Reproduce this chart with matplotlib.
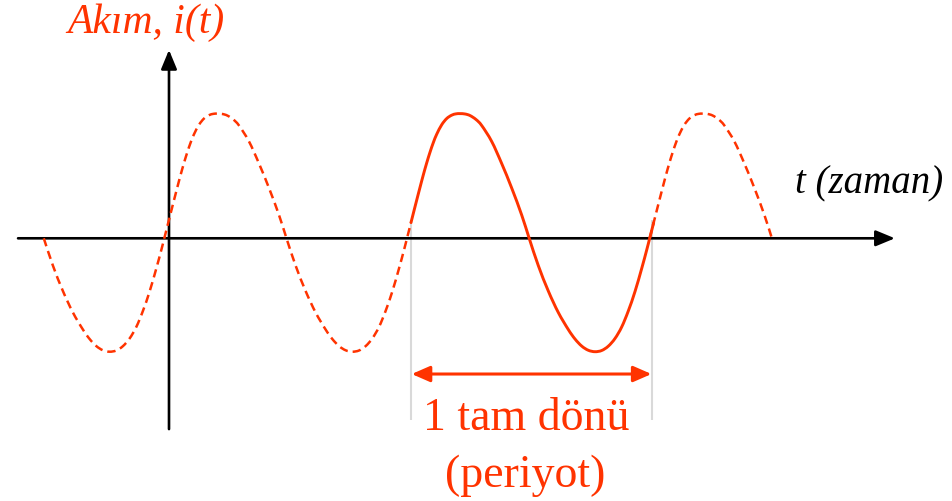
import numpy as np
import matplotlib
matplotlib.use("Agg")
import matplotlib.pyplot as plt
from matplotlib.path import Path
from matplotlib.patches import PathPatch

RED = "#ff3300"
GREY = "#d9d9d9"

# phase in periods (0 = rising zero crossing), current in units of ~peak amplitude
cycle_phase = [0.0, 0.0165, 0.0260, 0.0400, 0.0536, 0.0672, 0.0812, 0.0948,
               0.1084, 0.1224, 0.1430, 0.1636, 0.1842, 0.2019, 0.2184, 0.2390,
               0.2596, 0.2843, 0.3078, 0.3490, 0.3902, 0.4314, 0.4726, 0.5035,
               0.5410, 0.5822, 0.6234, 0.6646, 0.6922, 0.7198, 0.7470, 0.7746,
               0.8022, 0.8294, 0.8570, 0.8846, 0.9118, 0.9394, 0.9670, 0.9876,
               1.0]
cycle_current = [0.0, 0.131, 0.207, 0.318, 0.424, 0.528, 0.628, 0.717,
                 0.797, 0.867, 0.946, 0.998, 1.026, 1.037, 1.039, 1.036,
                 1.023, 0.990, 0.940, 0.807, 0.623, 0.419, 0.194, 0.0,
                 -0.227, -0.439, -0.618, -0.760, -0.839, -0.898, -0.933, -0.945,
                 -0.935, -0.899, -0.835, -0.739, -0.606, -0.444, -0.252, -0.098,
                 0.0]
# rising zero crossings of the drawn cycles (time in periods, vertical axis at 0)
cycle_starts = [-1.0194, -0.0194, 0.9806, 1.9806]
# visible span of the curve and the marked (solid) period
curve_start, curve_end = -0.517, 2.489
period_start, period_end = 0.997, 1.990

title_text = "Akım, i(t)"
xlabel_text = "t (zaman)"
period_text = ["1 tam dönü", "(periyot)"]

# build the curve from the read cycle
t = np.concatenate([np.asarray(cycle_phase[:-1]) + s for s in cycle_starts])
cur = np.tile(cycle_current[:-1], len(cycle_starts))


def smooth_path(x, y):
    """Smooth path through the given points (Catmull-Rom as cubic Beziers)."""
    p = np.column_stack([x, y])
    n = len(p)
    verts = [p[0]]
    codes = [Path.MOVETO]
    for k in range(n - 1):
        p0 = p[k - 1] if k > 0 else p[k]
        p1, p2 = p[k], p[k + 1]
        p3 = p[k + 2] if k + 2 < n else p[k + 1]
        verts += [p1 + (p2 - p0) / 6.0, p2 - (p3 - p1) / 6.0, p2]
        codes += [Path.CURVE4] * 3
    return Path(np.array(verts), codes)


plt.rcParams["lines.scale_dashes"] = False

fig = plt.figure(figsize=(9.53, 5.02), dpi=100)
ax = fig.add_axes([0, 0, 1, 1])
ax.axis("off")
PX_T, PX_I = 242.7, 120.0  # layout scale of the drawing
ax.set_xlim(-169 / PX_T, (953 - 169) / PX_T)
ax.set_ylim((239.3 - 502) / PX_I, 239.3 / PX_I)

serif = ["Liberation Serif", "DejaVu Serif"]

# grey period markers
for tp in (period_start, period_end):
    ax.plot([tp, tp], [0.15, -1.51], color=GREY, lw=1.5, zorder=1,
            solid_capstyle="butt")

# axes arrows
axis_arrow = dict(arrowstyle="-|>,head_length=0.58,head_width=0.24",
                  mutation_scale=20, lw=1.9, color="black", shrinkA=0, shrinkB=0)
ax.annotate("", xy=(2.991, 0), xytext=(-0.622, 0), arrowprops=axis_arrow, zorder=2)
ax.annotate("", xy=(0, 1.57), xytext=(0, -1.59), arrowprops=axis_arrow, zorder=2)

# waveform: dashed outside the marked period, solid inside
m1 = (t >= curve_start) & (t <= period_start + 0.001)
m2 = (t >= period_start - 0.001) & (t <= period_end + 0.008)
m3 = (t >= cycle_starts[-1] - 1e-6) & (t <= curve_end)
for m in (m1, m3):
    ax.add_patch(PathPatch(smooth_path(t[m], cur[m]), fill=False, edgecolor=RED,
                           lw=1.8, linestyle=(0, (6.0, 3.6)), zorder=3,
                           capstyle="butt"))
ax.add_patch(PathPatch(smooth_path(t[m2], cur[m2]), fill=False, edgecolor=RED,
                       lw=2.1, zorder=4, capstyle="round"))

# period arrow
ax.annotate("", xy=(period_end - 0.002, -1.131), xytext=(period_start + 0.003, -1.131),
            arrowprops=dict(arrowstyle="<|-|>,head_length=0.55,head_width=0.24",
                            mutation_scale=20, lw=2.2, color=RED,
                            shrinkA=0, shrinkB=0), zorder=4)

# texts
ax.text(-0.0948, 1.719, title_text, color=RED, fontsize=30, style="italic",
        family=serif, ha="center", va="baseline")
ax.text(2.884, 0.386, xlabel_text, color="black", fontsize=28, style="italic",
        family=serif, ha="center", va="baseline")
ax.text(1.471, -1.589, period_text[0], color=RED, fontsize=33,
        family=serif, ha="center", va="baseline")
ax.text(1.467, -2.064, period_text[1], color=RED, fontsize=33,
        family=serif, ha="center", va="baseline")

fig.savefig("out.png", dpi=100)
